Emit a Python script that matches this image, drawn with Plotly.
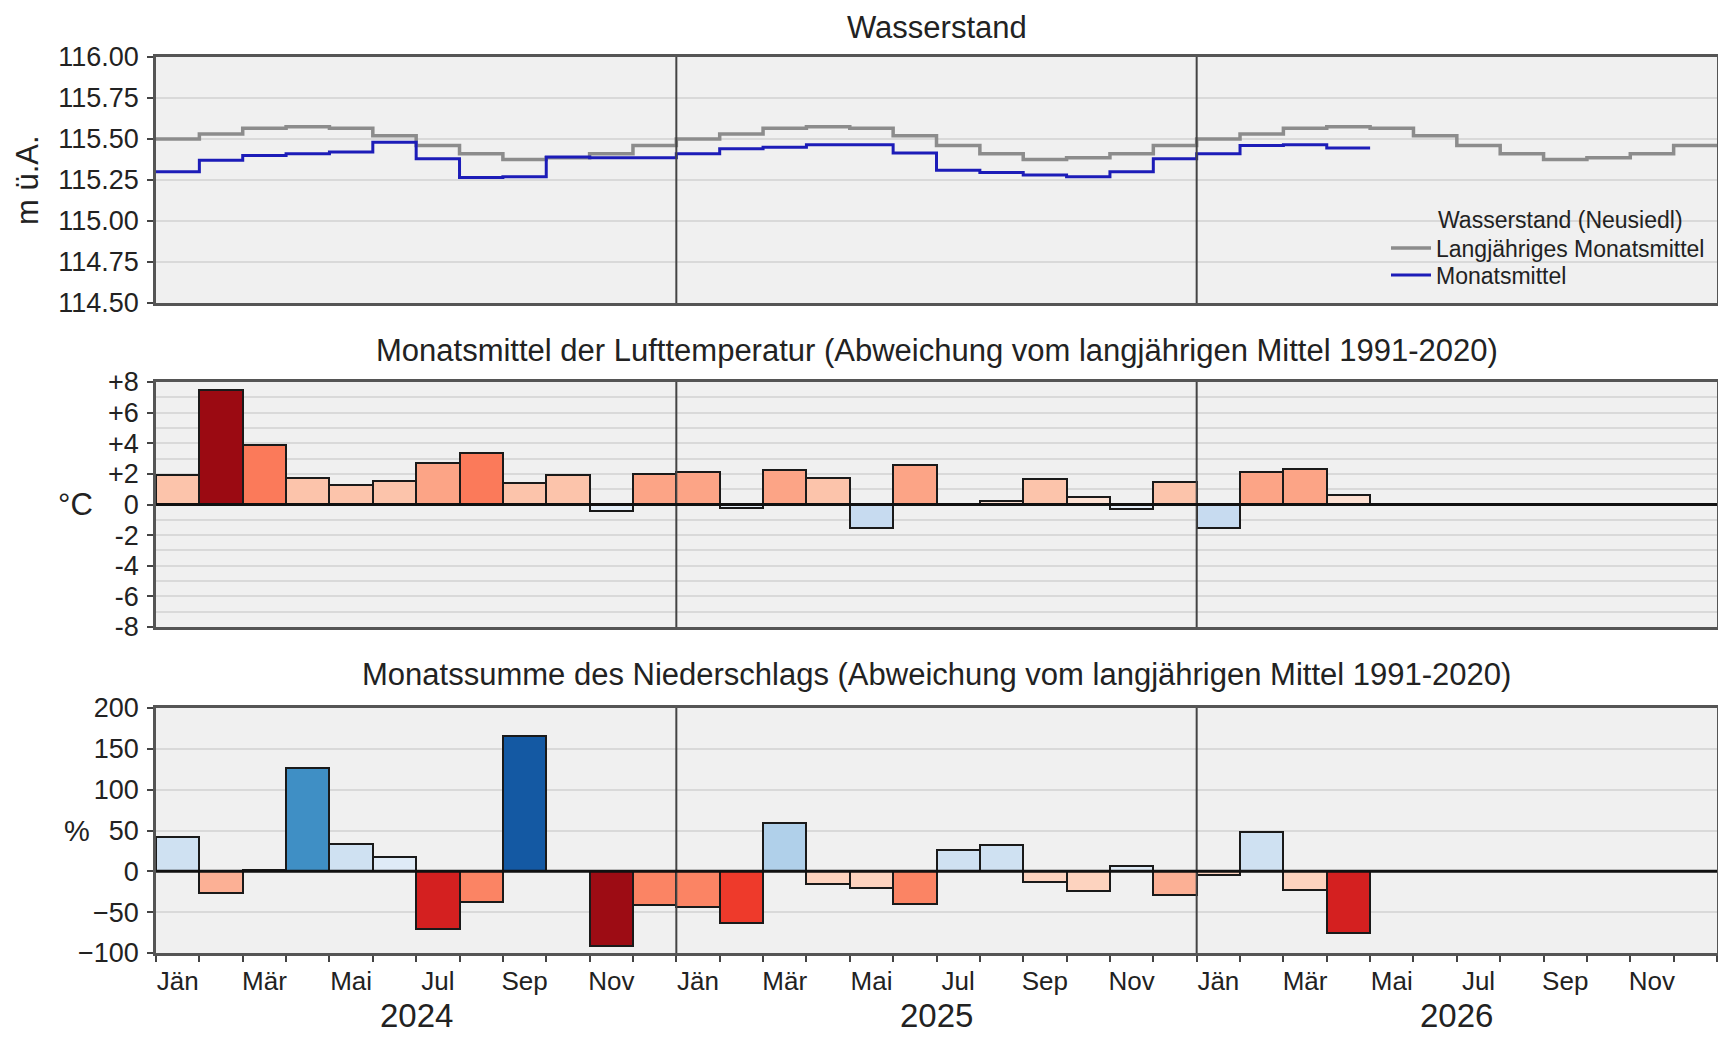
import plotly.graph_objects as go
from plotly.subplots import make_subplots

# ---------------- data ----------------
MONTH_LABELS = ["Jän", "Mär", "Mai", "Jul", "Sep", "Nov"]
YEARS = ["2024", "2025", "2026"]

# long-term monthly mean water level (Jan..Dec), m ü.A.
LT_MEAN = [115.50, 115.53, 115.565, 115.575, 115.565, 115.52,
           115.46, 115.41, 115.375, 115.385, 115.41, 115.46]

# monthly mean water level
WL_2024 = [115.30, 115.37, 115.40, 115.41, 115.42, 115.48,
           115.38, 115.265, 115.27, 115.39, 115.385, 115.385]
WL_2025 = [115.41, 115.44, 115.45, 115.465, 115.465, 115.415,
           115.31, 115.295, 115.28, 115.27, 115.30, 115.38]
WL_2026 = [115.41, 115.46, 115.465, 115.445]

# air temperature anomaly (°C)
TEMP_2024 = [1.9, 7.5, 3.9, 1.7, 1.25, 1.55, 2.7, 3.35, 1.4, 1.95, -0.45, 2.0]
TEMP_2025 = [2.1, -0.2, 2.25, 1.7, -1.55, 2.6, 0.0, 0.2, 1.65, 0.5, -0.3, 1.5]
TEMP_2026 = [-1.55, 2.1, 2.3, 0.6]

# precipitation anomaly (%)
PREC_2024 = [42, -26, 2, 126, 34, 18, -70, -38, 166, 0, -91, -41]
PREC_2025 = [-44, -63, 59, -15, -21, -40, 26, 32, -13, -24, 7, -29]
PREC_2026 = [-4, 48, -23, -75]

# ---------------- helpers ----------------
def temp_color(v):
    if v >= 7: return "#9b0a12"
    if v >= 4: return "#e8402e"
    if v >= 3: return "#fb7a5a"
    if v >= 2: return "#fca486"
    if v >= 1: return "#fcc4ab"
    if v >= 0: return "#fde0d2"
    if v > -1: return "#e4eef8"
    return "#c7dbf0"

def prec_color(v):
    if v >= 150: return "#1459a3"
    if v >= 100: return "#3f8fc5"
    if v >= 50: return "#b0d0ea"
    if v >= 25: return "#cfe1f2"
    if v >= 0: return "#dfebf7"
    if v > -25: return "#fdd3bf"
    if v > -35: return "#fcb095"
    if v > -50: return "#fb8464"
    if v > -65: return "#ee3a2b"
    if v > -80: return "#d42020"
    return "#9d0c14"

wl = WL_2024 + WL_2025 + WL_2026
lt = LT_MEAN * len(YEARS)
temp = TEMP_2024 + TEMP_2025 + TEMP_2026
prec = PREC_2024 + PREC_2025 + PREC_2026
n_months = 12 * len(YEARS)

FONT = "Liberation Sans, Arial, sans-serif"
TXT = "#222222"

# page geometry (the html body adds an 8 px margin)
OFF = 8
W, H = 1726 - 2 * OFF, 1042 - 2 * OFF
L, R = 156 - OFF, 1717 - OFF          # plot-area left/right in figure px
TOP, BOT = 57 - OFF, 953 - OFF        # plot-area top/bottom in figure px
span_y = BOT - TOP

def py(p):  # page pixel y -> paper y
    return (BOT - (p - OFF)) / span_y

def px(p):  # page pixel x -> paper x
    return ((p - OFF) - L) / (R - L)

fig = make_subplots(rows=3, cols=1, shared_xaxes=True)

# water level (step lines, one step per month)
fig.add_trace(go.Scatter(
    x=list(range(len(lt) + 1)), y=lt + [lt[-1]], mode="lines", line_shape="hv",
    line=dict(color="#8c8c8c", width=3.5), name="Langjähriges Monatsmittel",
    legend="legend"), row=1, col=1)
fig.add_trace(go.Scatter(
    x=list(range(len(wl) + 1)), y=wl + [wl[-1]], mode="lines", line_shape="hv",
    line=dict(color="#1c1cb8", width=3), name="Monatsmittel",
    legend="legend2"), row=1, col=1)

# temperature anomaly bars
fig.add_trace(go.Bar(
    x=[i + 0.5 for i in range(len(temp))], y=temp, width=1,
    marker=dict(color=[temp_color(v) for v in temp], line=dict(color="#1a1a1a", width=2)),
    showlegend=False), row=2, col=1)

# precipitation anomaly bars
fig.add_trace(go.Bar(
    x=[i + 0.5 for i in range(len(prec))], y=prec, width=1,
    marker=dict(color=[prec_color(v) for v in prec], line=dict(color="#1a1a1a", width=2)),
    showlegend=False), row=3, col=1)

# ---------------- axes ----------------
dom1 = [py(303), 1.0]
dom2 = [py(627), py(382)]
dom3 = [0.0, py(708)]

axis_common = dict(showline=True, mirror=True, linecolor="#555555", linewidth=2.5,
                   range=[0, n_months], showgrid=False, zeroline=False, automargin=False)

tickvals_x = [i + 0.5 for i in range(0, n_months, 2)]
ticktext_x = MONTH_LABELS * len(YEARS)

ytick = dict(showline=True, mirror=True, linecolor="#555555", linewidth=2.5,
             ticks="outside", ticklen=6, tickwidth=2, tickcolor="#444444",
             tickfont=dict(size=27, color=TXT, family=FONT), zeroline=False,
             showgrid=True, gridcolor="#d9d9d9", gridwidth=1.5, ticklabelstandoff=3,
             automargin=False)

fig.update_layout(
    xaxis=dict(**axis_common, showticklabels=False, ticks=""),
    xaxis2=dict(**axis_common, showticklabels=False, ticks=""),
    xaxis3=dict(**axis_common, tickmode="array", tickvals=tickvals_x, ticktext=ticktext_x,
                ticks="", tickfont=dict(size=26, color=TXT, family=FONT),
                ticklabelstandoff=3,
                minor=dict(tickmode="array", tickvals=list(range(n_months + 1)),
                           ticks="outside", ticklen=6, tickwidth=2, tickcolor="#444444")),
    yaxis=dict(domain=dom1, range=[114.5, 116.0], tickmode="linear", tick0=114.5, dtick=0.25,
               tickformat=".2f", **ytick),
    yaxis2=dict(domain=dom2, range=[-8, 8], tickmode="array",
                tickvals=list(range(-8, 9, 2)),
                ticktext=[("0" if v == 0 else f"{v:+d}") for v in range(-8, 9, 2)],
                minor=dict(tickmode="linear", tick0=-8, dtick=1, showgrid=True,
                           gridcolor="#d9d9d9", gridwidth=1.5),
                **ytick),
    yaxis3=dict(domain=dom3, range=[-100, 200], tickmode="linear", tick0=-100, dtick=50,
                **ytick),
)

# ---------------- shapes: year dividers & zero lines ----------------
shapes = []
for yr_edge in range(12, n_months, 12):
    for xr, yr in [("x", "y domain"), ("x2", "y2 domain"), ("x3", "y3 domain")]:
        shapes.append(dict(type="line", xref=xr, yref=yr, x0=yr_edge, x1=yr_edge,
                           y0=0, y1=1, line=dict(color="#444444", width=2), layer="above"))
for xr, yr in [("x2 domain", "y2"), ("x3 domain", "y3")]:
    shapes.append(dict(type="line", xref=xr, yref=yr, x0=0, x1=1, y0=0, y1=0,
                       line=dict(color="#111111", width=3), layer="above"))

# ---------------- annotations ----------------
ann = []
titles = [
    ("Wasserstand", py(27)),
    ("Monatsmittel der Lufttemperatur (Abweichung vom langjährigen Mittel 1991-2020)", py(350)),
    ("Monatssumme des Niederschlags (Abweichung vom langjährigen Mittel 1991-2020)", py(674)),
]
for t, y in titles:
    ann.append(dict(text=t, xref="paper", yref="paper", x=0.5, y=y, xanchor="center",
                    yanchor="middle", showarrow=False,
                    font=dict(size=31, color=TXT, family=FONT)))

ann.append(dict(text="m ü.A.", xref="paper", yref="paper", x=px(27), y=py(180),
                textangle=-90, xanchor="center", yanchor="middle", showarrow=False,
                font=dict(size=31, color=TXT, family=FONT)))
ann.append(dict(text="°C", xref="paper", yref="y2", x=px(75), y=0,
                xanchor="center", yanchor="middle", showarrow=False,
                font=dict(size=31, color=TXT, family=FONT)))
ann.append(dict(text="%", xref="paper", yref="y3", x=px(77), y=50,
                xanchor="center", yanchor="middle", showarrow=False,
                font=dict(size=29, color=TXT, family=FONT)))

for i, yr in enumerate(YEARS):
    ann.append(dict(text=yr, xref="x3", yref="paper", x=12 * i + 6, y=py(1015),
                    xanchor="center", yanchor="middle", showarrow=False,
                    font=dict(size=33, color=TXT, family=FONT)))

ann.append(dict(text="Wasserstand (Neusiedl)", xref="paper", yref="paper",
                x=px(1436), y=py(220), xanchor="left", yanchor="middle", showarrow=False,
                font=dict(size=23, color=TXT, family=FONT)))

leg_common = dict(yanchor="middle", bgcolor="rgba(0,0,0,0)", borderwidth=0,
                  font=dict(size=23, color=TXT, family=FONT), itemwidth=40)

fig.update_layout(
    width=W, height=H, autosize=False,
    margin=dict(l=L, r=W - R, t=TOP, b=H - BOT, pad=0, autoexpand=False),
    paper_bgcolor="white", plot_bgcolor="#f0f0f0",
    bargap=0, barmode="overlay",
    shapes=shapes, annotations=ann,
    showlegend=True,
    legend=dict(x=px(1386), y=py(248), xanchor="left", **leg_common),
    legend2=dict(x=px(1386), y=py(275), xanchor="left", **leg_common),
    font=dict(family=FONT, color=TXT),
)

fig.write_html("out.html")
